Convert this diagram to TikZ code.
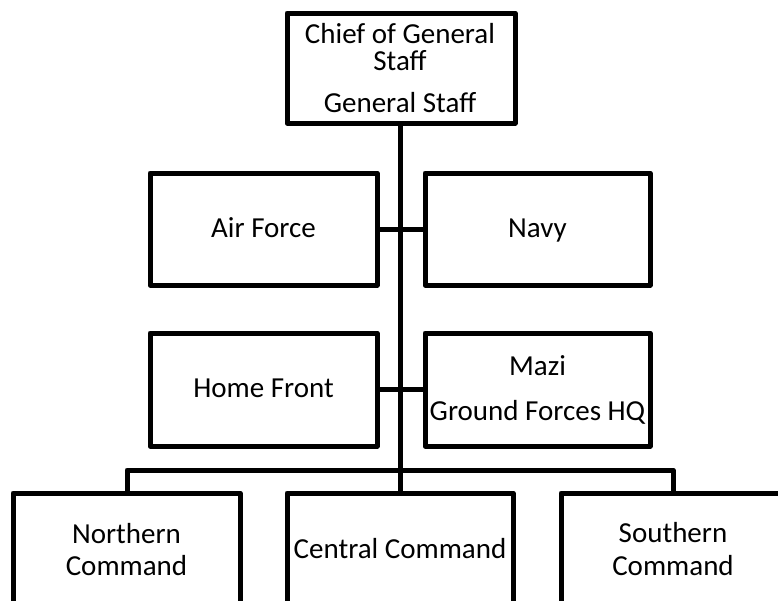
\documentclass[tikz,border=0pt]{standalone}
\usepackage{fontspec}
\setmainfont{Carlito}
\begin{document}
\begin{tikzpicture}[x=1pt,y=-1pt,
  box/.style={draw=black,line width=5pt,line join=round,fill=white},
  conn/.style={draw=black,line width=5pt,line join=round},
  pt/.style={inner sep=0pt,minimum size=0pt},
  lbl/.style={anchor=base,inner sep=0pt,font=\fontsize{29}{34}\selectfont}]
\useasboundingbox (0,0) rectangle (778,600);
\coordinate (busL) at (127,470);
\coordinate (busR) at (673,470);
% boxes
\draw[box] (287,13) rectangle (515,123);
\draw[box] (150,173) rectangle (377,285);
\draw[box] (425,173) rectangle (650,285);
\draw[box] (150,333) rectangle (377,446);
\draw[box] (425,333) rectangle (650,446);
\draw[box] (13,493) rectangle (240,620);
\draw[box] (287,493) rectangle (513,620);
\draw[box] (561,493) rectangle (790,620);
% named attachment points
\node[pt] (chief) at (400,123) {};
\node[pt] (airR) at (377,229) {};
\node[pt] (navyL) at (425,229) {};
\node[pt] (homeR) at (377,389) {};
\node[pt] (maziL) at (425,389) {};
\node[pt] (northT) at (127,493) {};
\node[pt] (centralT) at (400,493) {};
\node[pt] (southT) at (673,493) {};
% connectors
\draw[conn] (chief) -- (centralT);
\draw[conn] (airR) -- (navyL);
\draw[conn] (homeR) -- (maziL);
\draw[conn] (northT) -- (busL) -- (busR) -- (southT);
% labels
\node[lbl] (t1) at (400,43) {Chief of General};
\node[lbl] (t2) at (400,70) {Staff};
\node[lbl] (t3) at (400,112) {General Staff};
\node[lbl] (air) at (263.5,237) {Air Force};
\node[lbl] (navy) at (537.5,237) {Navy};
\node[lbl] (home) at (263.5,397) {Home Front};
\node[lbl] (mazi) at (537.5,375) {Mazi};
\node[lbl] (gf) at (537.5,420) {Ground Forces HQ};
\node[lbl] (n1) at (126.5,543) {Northern};
\node[lbl] (n2) at (126.5,575) {Command};
\node[lbl] (cc) at (400,558) {Central Command};
\node[lbl] (s1) at (673,542) {Southern};
\node[lbl] (s2) at (673,575) {Command};
\end{tikzpicture}
\end{document}
